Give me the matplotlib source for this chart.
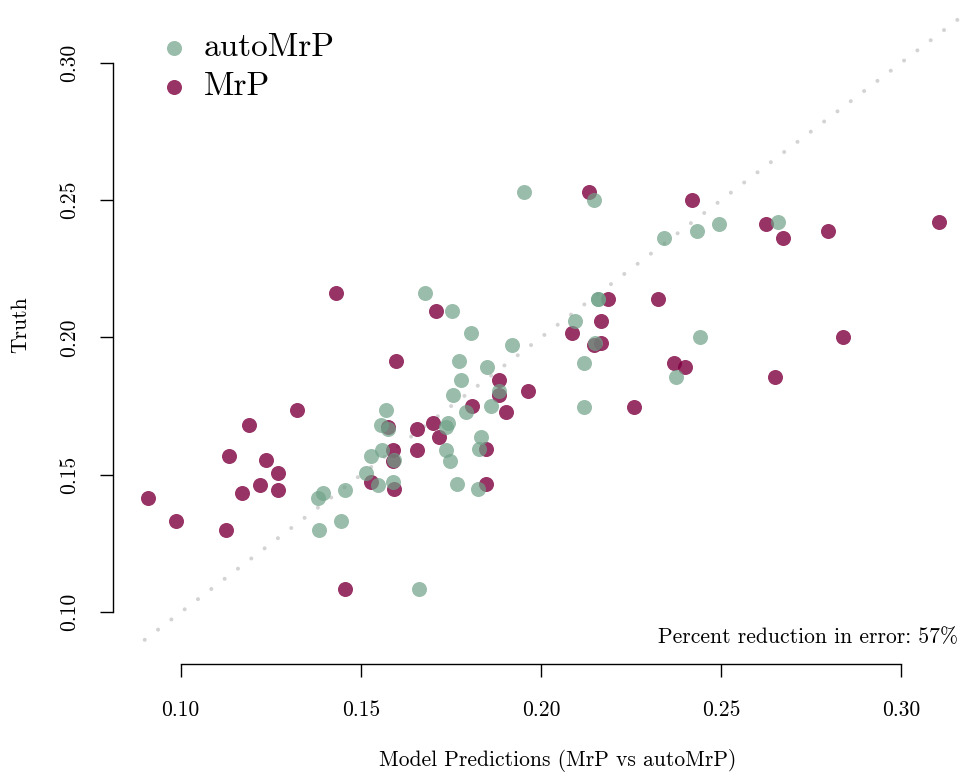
import numpy as np
import matplotlib
matplotlib.use("Agg")
import matplotlib.pyplot as plt

plt.rcParams['font.family'] = ['cmr10', 'DejaVu Serif']
plt.rcParams['axes.formatter.use_mathtext'] = True
plt.rcParams['mathtext.fontset'] = 'cm'

# truth and model predictions per unit (same truth for both models)
truth = [0.1415, 0.1334, 0.1298, 0.1568, 0.1434, 0.1681, 0.1463, 0.1554,
         0.1506, 0.1444, 0.1736, 0.2161, 0.1085, 0.1473, 0.1675, 0.1592,
         0.1552, 0.1450, 0.1916, 0.1666, 0.1590, 0.1688, 0.2098, 0.1639,
         0.1751, 0.1593, 0.1466, 0.1844, 0.1791, 0.1730, 0.1804, 0.2015,
         0.2530, 0.1971, 0.1979, 0.2059, 0.2140, 0.1746, 0.2139, 0.1907,
         0.1894, 0.2501, 0.2413, 0.1856, 0.2361, 0.2388, 0.2001, 0.2422]
mrp = [0.0909, 0.0987, 0.1125, 0.1135, 0.1171, 0.1190, 0.1219, 0.1238,
       0.1271, 0.1270, 0.1323, 0.1430, 0.1455, 0.1528, 0.1574, 0.1588,
       0.1588, 0.1593, 0.1598, 0.1656, 0.1656, 0.1700, 0.1708, 0.1716,
       0.1808, 0.1846, 0.1846, 0.1883, 0.1883, 0.1904, 0.1963, 0.2086,
       0.2133, 0.2147, 0.2167, 0.2167, 0.2187, 0.2257, 0.2324, 0.2368,
       0.2400, 0.2419, 0.2625, 0.2649, 0.2673, 0.2797, 0.2839, 0.3105]
automrp = [0.1380, 0.1446, 0.1385, 0.1528, 0.1395, 0.1557, 0.1548, 0.1591,
           0.1513, 0.1457, 0.1570, 0.1678, 0.1661, 0.1588, 0.1735, 0.1735,
           0.1748, 0.1826, 0.1773, 0.1576, 0.1560, 0.1741, 0.1753, 0.1833,
           0.1860, 0.1827, 0.1767, 0.1778, 0.1757, 0.1792, 0.1883, 0.1807,
           0.1954, 0.1919, 0.2151, 0.2095, 0.2157, 0.2119, 0.2157, 0.2119,
           0.1850, 0.2146, 0.2494, 0.2374, 0.2342, 0.2433, 0.2440, 0.2658]
ticks = [0.10, 0.15, 0.20, 0.25, 0.30]
reduction = 57

col_mrp = '#7F0040'
col_auto = '#70A288'

fig = plt.figure(figsize=(9.6, 7.72), dpi=100)
W, H = 960, 772
l, r, b, t = 113, 969, 664, 11
ax = fig.add_axes([l / W, 1 - b / H, (r - l) / W, (b - t) / H])

lim = (0.09 - 0.0088, 0.31 + 0.0088)
ax.plot([0.09, 0.33], [0.09, 0.33], color='#d3d3d3', lw=2.9,
        linestyle=(0, (0.01, 4.15)), dash_capstyle='round', zorder=1)
ax.scatter(mrp, truth, s=117, color=col_mrp, alpha=0.8, linewidths=0,
           label='MrP', zorder=2)
ax.scatter(automrp, truth, s=117, color=col_auto, alpha=0.7, linewidths=0,
           label='autoMrP', zorder=3)
ax.set_xlim(lim)
ax.set_ylim(lim)

for s in ['top', 'right']:
    ax.spines[s].set_visible(False)
ax.spines['left'].set_bounds(0.10, 0.30)
ax.spines['bottom'].set_bounds(0.10, 0.30)
ax.spines['left'].set_linewidth(1.0)
ax.spines['bottom'].set_linewidth(1.0)
ax.set_xticks(ticks)
ax.set_yticks(ticks)
ax.set_xticklabels([f'{v:.2f}' for v in ticks])
ax.set_yticklabels([f'{v:.2f}' for v in ticks], rotation=90, va='center')
ax.tick_params(length=9.5, width=1.0, labelsize=15.5, pad=17)
ax.tick_params(axis='y', pad=15)

fig.text(558 / W, 1 - 760 / H, 'Model Predictions (MrP vs autoMrP)',
         ha='center', va='center', fontsize=15.5)
fig.text(20 / W, 1 - 325 / H, 'Truth', ha='center', va='center',
         rotation=90, fontsize=15.5)
ax.text(958 / W, 1 - 637 / H, f'Percent reduction in error: {reduction}%',
        transform=fig.transFigure, ha='right', va='center', fontsize=15.5)

h, lab = ax.get_legend_handles_labels()
ax.legend(h[::-1], lab[::-1], loc='upper left', frameon=False, fontsize=24,
          bbox_to_anchor=(157 / W, 1 - 33 / H), bbox_transform=fig.transFigure,
          handlelength=1.0, handletextpad=0.41, labelspacing=0.29,
          borderaxespad=0, borderpad=0, scatterpoints=1)

fig.savefig('out.png', dpi=100)
